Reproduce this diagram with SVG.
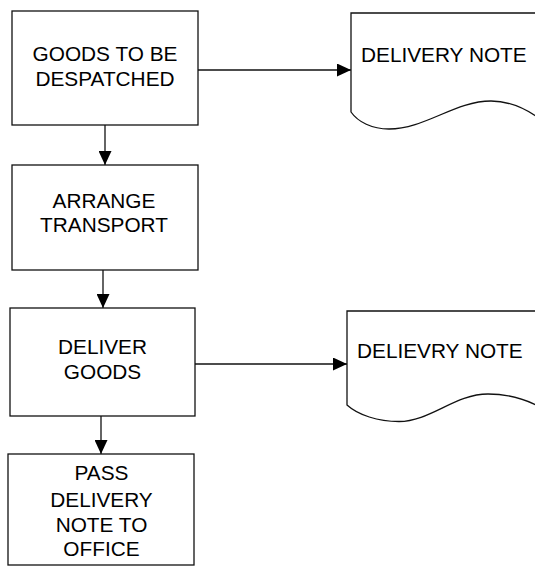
<svg xmlns="http://www.w3.org/2000/svg" width="535" height="567" viewBox="0 0 535 567">
<style>
.box{fill:#fff;stroke:#111;stroke-width:1.3}
.doc{fill:#fff;stroke:#111;stroke-width:1.3}
.lbl{font-family:"Liberation Sans",Arial,sans-serif;font-size:20.8px;fill:#000;text-anchor:middle}
.lbl2{font-family:"Liberation Sans",Arial,sans-serif;font-size:20.8px;fill:#000}
.conn{stroke:#111;stroke-width:1.3;fill:none;marker-end:url(#ah)}
</style>
<defs>
<marker id="ah" markerWidth="15" markerHeight="13" refX="14" refY="6.5" orient="auto" markerUnits="userSpaceOnUse">
<path d="M0,0 L14,6.5 L0,13 Z" fill="#000"/>
</marker>
</defs>
<rect width="535" height="567" fill="#fff"/>
<g id="connectors">
<line class="conn" x1="198" y1="70" x2="351" y2="70"/>
<line class="conn" x1="105" y1="125" x2="105" y2="165"/>
<line class="conn" x1="103" y1="270" x2="103" y2="308"/>
<line class="conn" x1="195" y1="364" x2="347" y2="364"/>
<line class="conn" x1="101" y1="416" x2="101" y2="454"/>
</g>
<g id="goods-despatched">
<rect class="box" x="12" y="11" width="186" height="114"/>
<text class="lbl" x="105" y="61">GOODS TO BE</text>
<text class="lbl" x="105" y="86">DESPATCHED</text>
</g>
<g id="delivery-note-1">
<path class="doc" d="M351,13 L540,13 L540,119 C525,108 510,101 491,101 C455,101 425,129 389,129 C372,129 358,122 351,112 Z"/>
<text class="lbl2" x="361" y="61.5">DELIVERY NOTE</text>
</g>
<g id="arrange-transport">
<rect class="box" x="12" y="165" width="186" height="105"/>
<text class="lbl" x="104" y="208">ARRANGE</text>
<text class="lbl" x="104" y="232">TRANSPORT</text>
</g>
<g id="deliver-goods">
<rect class="box" x="10" y="308" width="185" height="108"/>
<text class="lbl" x="102.5" y="353.5">DELIVER</text>
<text class="lbl" x="102.5" y="378.5">GOODS</text>
</g>
<g id="delivery-note-2">
<path class="doc" d="M347,311 L540,311 L540,407 C525,399 508,394 488,394 C455,394 430,421.5 399,421.5 C378,421.5 358,415 347,405 Z"/>
<text class="lbl2" x="357" y="357.5">DELIEVRY NOTE</text>
</g>
<g id="pass-delivery-note">
<rect class="box" x="8" y="454" width="186" height="111"/>
<text class="lbl" x="101.5" y="479.5">PASS</text>
<text class="lbl" x="101.5" y="506.5">DELIVERY</text>
<text class="lbl" x="101.5" y="531.5">NOTE TO</text>
<text class="lbl" x="101.5" y="556">OFFICE</text>
</g>
</svg>
